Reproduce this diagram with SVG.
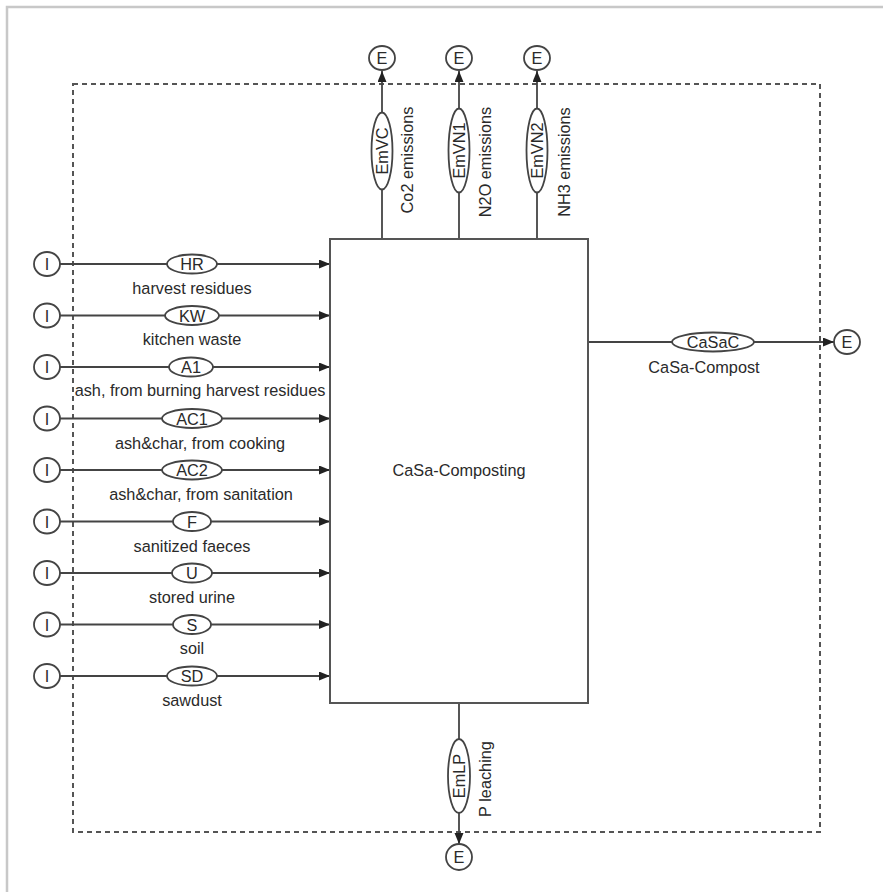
<svg xmlns="http://www.w3.org/2000/svg" width="883" height="892" viewBox="0 0 883 892">
<defs>
<marker id="arr" markerUnits="userSpaceOnUse" markerWidth="12" markerHeight="10" refX="11" refY="4.5" orient="auto">
<path d="M0,0 L11,4.5 L0,9 z" fill="#222"/>
</marker>
<style>
text{font-family:"Liberation Sans",Arial,sans-serif;font-size:16.3px;fill:#2a2a2a}
.c{text-anchor:middle}
.ln{stroke:#444;stroke-width:1.8;fill:none}
.el{fill:#fff;stroke:#444;stroke-width:1.8}
.term{fill:#fff;stroke:#444;stroke-width:1.8}
</style>
</defs>
<rect width="883" height="892" fill="#fff"/>
<path d="M7,892 V7 H883" fill="none" stroke="#c8c8c8" stroke-width="2.5"/>
<rect x="73" y="84" width="747" height="748" fill="none" stroke="#555" stroke-width="2" stroke-dasharray="5,4"/>

<g id="connectors">
<line class="ln" x1="60" y1="264" x2="330" y2="264" marker-end="url(#arr)"/>
<line class="ln" x1="60" y1="315.5" x2="330" y2="315.5" marker-end="url(#arr)"/>
<line class="ln" x1="60" y1="367" x2="330" y2="367" marker-end="url(#arr)"/>
<line class="ln" x1="60" y1="418.5" x2="330" y2="418.5" marker-end="url(#arr)"/>
<line class="ln" x1="60" y1="470" x2="330" y2="470" marker-end="url(#arr)"/>
<line class="ln" x1="60" y1="521.5" x2="330" y2="521.5" marker-end="url(#arr)"/>
<line class="ln" x1="60" y1="573" x2="330" y2="573" marker-end="url(#arr)"/>
<line class="ln" x1="60" y1="624.5" x2="330" y2="624.5" marker-end="url(#arr)"/>
<line class="ln" x1="60" y1="676" x2="330" y2="676" marker-end="url(#arr)"/>
<line class="ln" x1="588" y1="342" x2="834" y2="342" marker-end="url(#arr)"/>
<line class="ln" x1="382" y1="239" x2="382" y2="71" marker-end="url(#arr)"/>
<line class="ln" x1="459" y1="239" x2="459" y2="71" marker-end="url(#arr)"/>
<line class="ln" x1="537" y1="239" x2="537" y2="71" marker-end="url(#arr)"/>
<line class="ln" x1="459" y1="703" x2="459" y2="844" marker-end="url(#arr)"/>
</g>

<g id="process">
<rect x="330" y="239" width="258" height="464" fill="#fff" stroke="#555" stroke-width="2"/>
<text class="c" x="459" y="476">CaSa-Composting</text>
</g>

<g id="inputs">
<g id="in1"><ellipse class="term" cx="47" cy="264" rx="13" ry="12"/><text class="c" x="47" y="270">I</text></g>
<g id="in2"><ellipse class="term" cx="47" cy="315.5" rx="13" ry="12"/><text class="c" x="47" y="321.5">I</text></g>
<g id="in3"><ellipse class="term" cx="47" cy="367" rx="13" ry="12"/><text class="c" x="47" y="373">I</text></g>
<g id="in4"><ellipse class="term" cx="47" cy="418.5" rx="13" ry="12"/><text class="c" x="47" y="424.5">I</text></g>
<g id="in5"><ellipse class="term" cx="47" cy="470" rx="13" ry="12"/><text class="c" x="47" y="476">I</text></g>
<g id="in6"><ellipse class="term" cx="47" cy="521.5" rx="13" ry="12"/><text class="c" x="47" y="527.5">I</text></g>
<g id="in7"><ellipse class="term" cx="47" cy="573" rx="13" ry="12"/><text class="c" x="47" y="579">I</text></g>
<g id="in8"><ellipse class="term" cx="47" cy="624.5" rx="13" ry="12"/><text class="c" x="47" y="630.5">I</text></g>
<g id="in9"><ellipse class="term" cx="47" cy="676" rx="13" ry="12"/><text class="c" x="47" y="682">I</text></g>
</g>

<g id="flows">
<g id="HR"><ellipse class="el" cx="192" cy="264" rx="25" ry="9.5"/><text class="c" x="192" y="270">HR</text><text class="c" x="192" y="294">harvest residues</text></g>
<g id="KW"><ellipse class="el" cx="192" cy="315.5" rx="27" ry="9.5"/><text class="c" x="192" y="321.5">KW</text><text class="c" x="192" y="345">kitchen waste</text></g>
<g id="A1"><ellipse class="el" cx="191" cy="367" rx="22" ry="9.5"/><text class="c" x="191" y="373">A1</text><text class="c" x="200" y="396">ash, from burning harvest residues</text></g>
<g id="AC1"><ellipse class="el" cx="192" cy="418.5" rx="30" ry="9.5"/><text class="c" x="192" y="424.5">AC1</text><text class="c" x="200" y="449">ash&amp;char, from cooking</text></g>
<g id="AC2"><ellipse class="el" cx="192" cy="470" rx="30" ry="9.5"/><text class="c" x="192" y="476">AC2</text><text class="c" x="201" y="500">ash&amp;char, from sanitation</text></g>
<g id="F"><ellipse class="el" cx="192" cy="521.5" rx="19" ry="9.5"/><text class="c" x="192" y="527.5">F</text><text class="c" x="192" y="552">sanitized faeces</text></g>
<g id="U"><ellipse class="el" cx="192" cy="573" rx="20" ry="9.5"/><text class="c" x="192" y="579">U</text><text class="c" x="192" y="603">stored urine</text></g>
<g id="S"><ellipse class="el" cx="192" cy="624.5" rx="19" ry="9.5"/><text class="c" x="192" y="630.5">S</text><text class="c" x="192" y="654">soil</text></g>
<g id="SD"><ellipse class="el" cx="192" cy="676" rx="25" ry="9.5"/><text class="c" x="192" y="682">SD</text><text class="c" x="192" y="706">sawdust</text></g>
<g id="CaSaC"><ellipse class="el" cx="713" cy="342" rx="41" ry="9.5"/><text class="c" x="713" y="348">CaSaC</text><text class="c" x="704" y="373">CaSa-Compost</text></g>
<g id="EmVC"><ellipse class="el" cx="382" cy="151" rx="10.5" ry="38.5"/><text class="c" transform="translate(382,151) rotate(-90)" y="6">EmVC</text><text class="c" transform="translate(413,160) rotate(-90)">Co2 emissions</text></g>
<g id="EmVN1"><ellipse class="el" cx="459" cy="150.5" rx="10.5" ry="42"/><text class="c" transform="translate(459,150.5) rotate(-90)" y="6">EmVN1</text><text class="c" transform="translate(491,162) rotate(-90)">N2O emissions</text></g>
<g id="EmVN2"><ellipse class="el" cx="537" cy="150.5" rx="10.5" ry="42"/><text class="c" transform="translate(537,150.5) rotate(-90)" y="6">EmVN2</text><text class="c" transform="translate(570,162) rotate(-90)">NH3 emissions</text></g>
<g id="EmLP"><ellipse class="el" cx="459" cy="776" rx="11" ry="37"/><text class="c" transform="translate(459,776) rotate(-90)" y="6">EmLP</text><text class="c" transform="translate(491,779) rotate(-90)">P leaching</text></g>
</g>

<g id="outputs">
<g id="out1"><ellipse class="term" cx="382" cy="58" rx="13" ry="12"/><text class="c" x="382" y="64">E</text></g>
<g id="out2"><ellipse class="term" cx="459" cy="58" rx="13" ry="12"/><text class="c" x="459" y="64">E</text></g>
<g id="out3"><ellipse class="term" cx="537" cy="58" rx="13" ry="12"/><text class="c" x="537" y="64">E</text></g>
<g id="out4"><ellipse class="term" cx="847" cy="342" rx="13" ry="12"/><text class="c" x="847" y="348">E</text></g>
<g id="out5"><ellipse class="term" cx="459" cy="857" rx="13" ry="13"/><text class="c" x="459" y="863">E</text></g>
</g>
</svg>
